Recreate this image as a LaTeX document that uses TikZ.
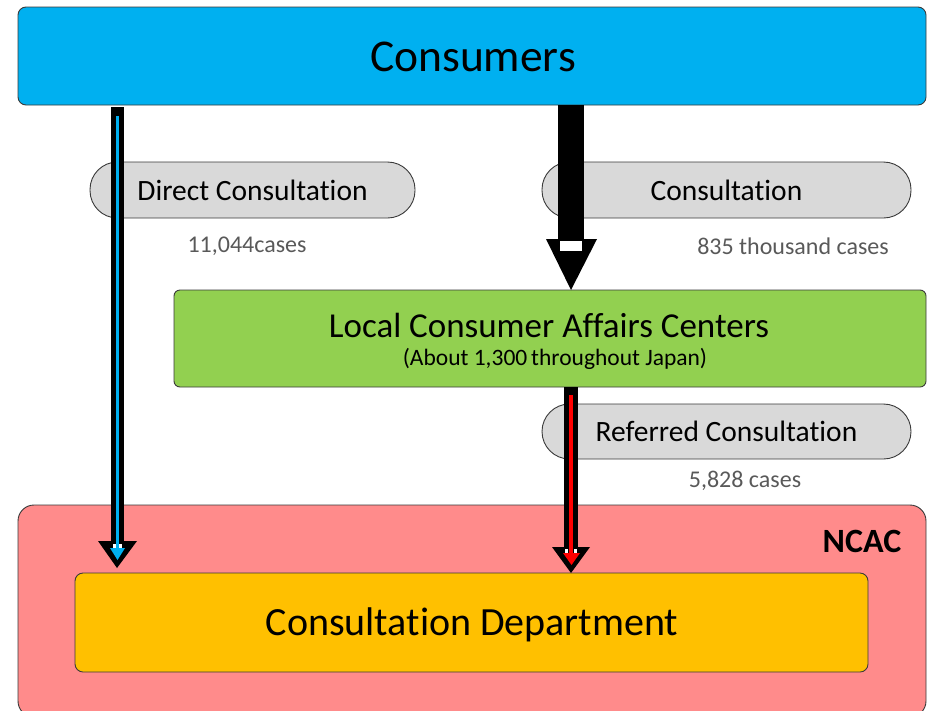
\documentclass[tikz,border=0pt]{standalone}
\usepackage{fontspec}
\setmainfont[Ligatures=NoCommon]{Carlito}
\newcommand\tIbreak{t\kern0pt i}
\definecolor{consblue}{HTML}{00B0F0}
\definecolor{locgreen}{HTML}{92D050}
\definecolor{ncacpink}{HTML}{FF8B8B}
\definecolor{deptorange}{HTML}{FFC000}
\definecolor{pillgray}{HTML}{D9D9D9}
\definecolor{countgray}{HTML}{595959}
\definecolor{edgegray}{HTML}{3A3A3A}
\begin{document}
\begin{tikzpicture}[x=1pt,y=-1pt,
  box/.style={draw=edgegray, line width=0.9pt, rounded corners=8pt, inner sep=0pt, align=center},
  pill/.style={draw=edgegray, fill=pillgray, line width=0.9pt, rounded corners=27.5pt, minimum height=56pt, inner sep=0pt, font=\fontsize{29.5}{33}\selectfont},
  cnt/.style={text=countgray, inner sep=0pt, font=\fontsize{24}{28}\selectfont},
  blk/.style={fill=black},
  wht/.style={fill=white}]
\useasboundingbox (0,0) rectangle (928,710);
% boxes
\node[box, fill=consblue, minimum width=908pt, minimum height=98pt] (cons) at (472,56) {};
\node[inner sep=0pt, font=\fontsize{45.5}{50}\selectfont] (consT) at (473,57) {Consumers};
\node[box, fill=ncacpink, rounded corners=16pt, minimum width=908pt, minimum height=212pt] (ncac) at (472,611) {};
\node[inner sep=0pt, font=\bfseries\fontsize{34}{40}\selectfont] (ncacT) at (862,541) {NCAC};
\node[box, fill=deptorange, minimum width=793pt, minimum height=99pt] (dept) at (471.5,622.5) {};
\node[inner sep=0pt, font=\fontsize{40}{45}\selectfont] (deptT) at (472,625) {Consulta\tIbreak on Department};
\node[box, fill=locgreen, rounded corners=6pt, minimum width=752pt, minimum height=97pt] (loc) at (550,338.5) {};
\node[inner sep=0pt, font=\fontsize{35}{39}\selectfont] (locT) at (549,325) {Local Consumer Affairs Centers};
\node[inner sep=0pt, font=\fontsize{23.5}{27}\selectfont] (locS) at (555,359) {(About 1,300\,throughout Japan)};
% pills
\node[pill, minimum width=325pt] (direct) at (252.5,190) {Direct Consulta\tIbreak on};
\node[pill, minimum width=369pt] (consult) at (726.5,190) {Consulta\tIbreak on};
\node[pill, minimum width=369pt, minimum height=55pt] (refer) at (726.5,431.5) {Referred Consulta\tIbreak on};
% counts
\node[cnt] (c1) at (247,246) {11,044cases};
\node[cnt] (c2) at (793,246) {835 thousand cases};
\node[cnt] (c3) at (745,481) {5,828 cases};
% left arrow (Consumers -> Dept)
\coordinate (la) at (117,107);
\coordinate (lb) at (117,568);
\fill[blk] ([xshift=-6.5pt]la) rectangle (123.5,542);
\fill[blk] (98,541) -- (137,541) -- (lb) -- cycle;
\fill[consblue] (115.5,116) rectangle (119.2,550);
\fill[consblue] (110,548) -- (125,548) -- (117.5,560) -- cycle;
\fill[wht] (113,544) rectangle (116,548);
\fill[wht] (119,544) rectangle (122,548);
% middle arrow (Consumers -> Local)
\coordinate (ma) at (571,105);
\coordinate (mb) at (571,290);
\fill[blk] ([xshift=-13pt]ma) rectangle (584,240);
\fill[blk] (546,239) -- (597,239) -- (mb) -- cycle;
\fill[wht] (560,241) rectangle (582,251);
% red arrow (Local -> Dept)
\coordinate (ra) at (571,387);
\coordinate (rb) at (571,573);
\fill[blk] ([xshift=-7pt]ra) rectangle (577.5,549);
\fill[blk] (552,547) -- (590,547) -- (rb) -- cycle;
\fill[red] (569.3,395) rectangle (572.8,555);
\fill[red] (563,553) -- (580,553) -- (571.5,565) -- cycle;
\fill[wht] (565,549) rectangle (568,553);
\fill[wht] (574,549) rectangle (577,553);
\end{tikzpicture}
\end{document}
